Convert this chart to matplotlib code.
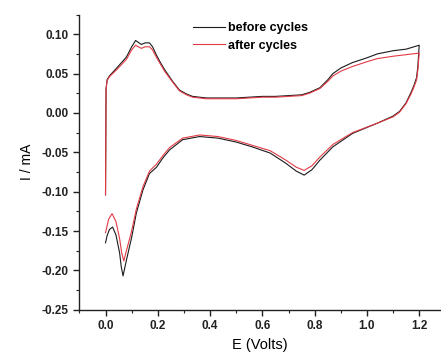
import matplotlib
matplotlib.use("Agg")
import matplotlib.pyplot as plt
from matplotlib.ticker import MultipleLocator

plt.rcParams['font.family'] = ['Liberation Sans', 'DejaVu Sans']

# before cycles (black): anodic branch then cathodic branch
E_before = [0.0, 0.002, 0.006, 0.015, 0.04, 0.08, 0.1, 0.115, 0.137, 0.152, 0.168, 0.18,
            0.194, 0.21, 0.226, 0.257, 0.283, 0.31, 0.333, 0.386, 0.45, 0.5, 0.55, 0.6,
            0.65, 0.7, 0.75, 0.78, 0.82, 0.85, 0.87, 0.9, 0.945, 1.0, 1.04, 1.1, 1.15, 1.2,
            1.195, 1.19, 1.18, 1.17, 1.15, 1.125, 1.1, 1.04, 0.945, 0.87, 0.82, 0.79, 0.76,
            0.73, 0.69, 0.63, 0.56, 0.5, 0.43, 0.36, 0.295, 0.245, 0.22, 0.195, 0.168, 0.143,
            0.118, 0.1, 0.08, 0.067, 0.06, 0.054, 0.04, 0.027, 0.015, 0.006, 0.0]
I_before = [-0.104, 0.03, 0.042, 0.047, 0.056, 0.071, 0.084, 0.092, 0.087, 0.089, 0.089, 0.084,
            0.074, 0.064, 0.055, 0.04, 0.029, 0.024, 0.021, 0.019, 0.019, 0.019, 0.020, 0.021,
            0.021, 0.022, 0.023, 0.026, 0.032, 0.042, 0.050, 0.057, 0.064, 0.070, 0.075, 0.079, 0.081, 0.086,
            0.06, 0.045, 0.035, 0.027, 0.013, 0.002, -0.004, -0.013, -0.026, -0.043, -0.06, -0.072, -0.079,
            -0.074, -0.064, -0.051, -0.043, -0.037, -0.032, -0.030, -0.034, -0.047, -0.057, -0.069, -0.077, -0.098,
            -0.127, -0.158, -0.187, -0.207, -0.195, -0.178, -0.155, -0.145, -0.148, -0.156, -0.165]

# after cycles (red)
E_after = [0.0, 0.002, 0.006, 0.015, 0.04, 0.08, 0.1, 0.115, 0.137, 0.152, 0.168, 0.18,
           0.194, 0.21, 0.226, 0.257, 0.283, 0.31, 0.333, 0.386, 0.45, 0.5, 0.55, 0.6,
           0.65, 0.7, 0.75, 0.78, 0.82, 0.85, 0.87, 0.9, 0.945, 1.0, 1.04, 1.1, 1.15, 1.2,
           1.195, 1.19, 1.18, 1.17, 1.15, 1.125, 1.1, 1.04, 0.945, 0.87, 0.82, 0.79, 0.76,
           0.73, 0.69, 0.63, 0.56, 0.5, 0.43, 0.36, 0.295, 0.245, 0.22, 0.195, 0.168, 0.143,
           0.118, 0.1, 0.08, 0.07, 0.062, 0.054, 0.04, 0.025, 0.012, 0.0]
I_after = [-0.104, 0.03, 0.041, 0.046, 0.054, 0.068, 0.080, 0.086, 0.082, 0.084, 0.084, 0.080,
           0.071, 0.062, 0.053, 0.039, 0.028, 0.023, 0.020, 0.018, 0.018, 0.018, 0.019, 0.020,
           0.020, 0.021, 0.022, 0.025, 0.031, 0.040, 0.047, 0.053, 0.059, 0.065, 0.069, 0.072, 0.074, 0.076,
           0.055, 0.042, 0.033, 0.025, 0.012, 0.001, -0.005, -0.013, -0.025, -0.040, -0.056, -0.067, -0.073,
           -0.069, -0.060, -0.048, -0.041, -0.035, -0.030, -0.028, -0.032, -0.044, -0.054, -0.065, -0.074, -0.094,
           -0.122, -0.150, -0.175, -0.188, -0.178, -0.160, -0.138, -0.128, -0.135, -0.152]

labels = ["before cycles", "after cycles"]
colors = ["#1a1a1a", "#e23a44"]

fig = plt.figure(figsize=(4.41, 3.54), dpi=100)
ax = fig.add_axes([0.180, 0.125, 0.818, 0.834])
ax.plot(E_before, I_before, color=colors[0], lw=0.8, label=labels[0])
ax.plot(E_after, I_after, color=colors[1], lw=0.8, label=labels[1])

ax.set_xlim(-0.1, 1.28)
ax.set_ylim(-0.25, 0.125)
ax.xaxis.set_minor_locator(MultipleLocator(0.1))
ax.yaxis.set_minor_locator(MultipleLocator(0.025))
ax.set_xticks([0.0, 0.2, 0.4, 0.6, 0.8, 1.0, 1.2])
ax.set_xticklabels(["0.0", "0.2", "0.4", "0.6", "0.8", "1.0", "1.2"])
ax.set_yticks([-0.25, -0.20, -0.15, -0.10, -0.05, 0.0, 0.05, 0.10])
ax.set_yticklabels(["-0.25", "-0.20", "-0.15", "-0.10", "-0.05", "0.00", "0.05", "0.10"])
for s in ["top", "right"]:
    ax.spines[s].set_visible(False)
for s in ["left", "bottom"]:
    ax.spines[s].set_linewidth(1.0)
    ax.spines[s].set_color("#222222")
ax.tick_params(which="major", direction="out", length=4, width=1.0, labelsize=8.5,
               colors="#222222")
ax.tick_params(which="minor", direction="out", length=2.5, width=0.8, colors="#222222")
for t in ax.get_xticklabels() + ax.get_yticklabels():
    t.set_fontweight("bold")
ax.set_xlabel("E (Volts)", fontsize=10.5, labelpad=4)
ax.set_ylabel("I / mA", fontsize=10, labelpad=6)

leg = ax.legend(loc="upper left", bbox_to_anchor=(0.3, 0.99), frameon=False,
                prop={"size": 9, "weight": "bold"},
                handlelength=2.6, handletextpad=0.25, labelspacing=0.42, borderaxespad=0)

fig.savefig("out.png", dpi=100)
